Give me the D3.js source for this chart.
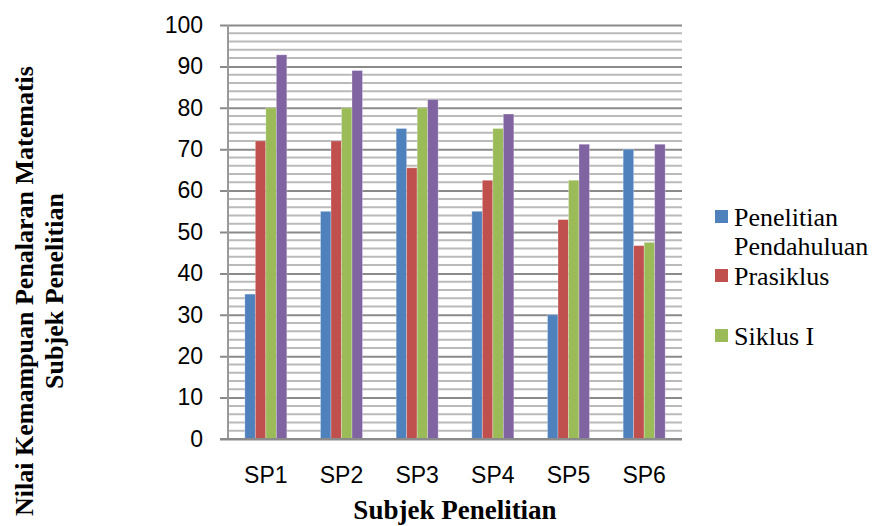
<!DOCTYPE html>
<html>
<head>
<meta charset="utf-8">
<script src="https://cdn.jsdelivr.net/npm/d3@7"></script>
<style>
  body { margin: 0; background: #fff; }
  .serif { font-family: 'Liberation Serif', 'Times New Roman', serif; }
</style>
</head>
<body>
<div class="container"></div>
<script>
const categories = ["SP1", "SP2", "SP3", "SP4", "SP5", "SP6"]
const seriesNames = ["Penelitian Pendahuluan", "Prasiklus", "Siklus I", "Siklus II"]
const penelitianPendahuluan = [35, 55, 75, 55, 30, 70]
const prasiklus = [72, 72, 65.5, 62.5, 53, 46.7]
const siklusI = [80, 80, 80, 75, 62.5, 47.5]
const siklusII = [92.8, 89, 82, 78.5, 71.2, 71.2]
const yTicks = [0, 10, 20, 30, 40, 50, 60, 70, 80, 90, 100]
const colors = ["#4f81bd", "#c0504d", "#9bbb59", "#8064a2"]

const allSeries = [penelitianPendahuluan, prasiklus, siklusI, siklusII]
const rows = categories.map((c, i) => ({
    category: c,
    values: allSeries.map((s, j) => ({ key: seriesNames[j], value: s[i], idx: j }))
}))

const width = 874
const height = 526
const margin = { left: 228, right: 192, top: 25, bottom: 87 }

const svg = d3.select(".container")
    .append("svg")
    .attr("xmlns", "http://www.w3.org/2000/svg")
    .attr("width", width)
    .attr("height", height)

const x0 = d3.scaleBand()
    .domain(categories)
    .range([margin.left, width - margin.right])
    .paddingInner(0.445)
    .paddingOuter(0.2225)

const x1 = d3.scaleBand()
    .domain(seriesNames)
    .range([0, x0.bandwidth()])

const y = d3.scaleLinear()
    .domain([0, 100])
    .range([height - margin.bottom, margin.top])

// minor gridlines every 2, major every 10
const minor = d3.range(2, 100, 2).filter(v => v % 10 != 0)
svg.append("g")
    .selectAll("line")
    .data(minor)
    .enter().append("line")
    .attr("x1", margin.left)
    .attr("x2", width - margin.right)
    .attr("y1", d => y(d))
    .attr("y2", d => y(d))
    .style("stroke", "#bababa")
    .style("stroke-width", "2px")

const yAxis = svg.append("g")
    .attr("transform", `translate(${margin.left},0)`)
    .call(d3.axisLeft(y).tickValues(yTicks).tickSize(8).tickPadding(17))

yAxis.select(".domain").remove()
yAxis.selectAll(".tick line")
    .attr("x2", width - margin.right - margin.left)
    .attr("x1", -8)
    .style("stroke", "#8a8a8a")
    .style("stroke-width", "2px")
yAxis.selectAll(".tick text")
    .style("font-family", "'Liberation Sans', Arial, sans-serif")
    .style("font-size", "23px")
    .style("fill", "#000")

svg.append("line")
    .attr("x1", margin.left)
    .attr("x2", margin.left)
    .attr("y1", y(100))
    .attr("y2", y(0))
    .style("stroke", "#9a9a9a")
    .style("stroke-width", "2px")

const group = svg.append("g")
    .selectAll("g")
    .data(rows)
    .enter().append("g")
    .attr("transform", d => `translate(${x0(d.category)},0)`)

group.selectAll("rect")
    .data(d => d.values)
    .enter().append("rect")
    .attr("x", d => x1(d.key))
    .attr("width", x1.bandwidth())
    .attr("y", d => y(d.value))
    .attr("height", d => y(0) - y(d.value))
    .style("fill", d => colors[d.idx])
    .style("stroke", "#ffffff")
    .style("stroke-opacity", 0.35)
    .style("stroke-width", "0.8px")

const xAxis = svg.append("g")
    .attr("transform", `translate(0,${y(0)})`)
    .call(d3.axisBottom(x0).tickSize(0).tickPadding(28))

xAxis.select(".domain").remove()
xAxis.selectAll(".tick text")
    .style("font-family", "'Liberation Sans', Arial, sans-serif")
    .style("font-size", "23px")
    .style("fill", "#000")

svg.append("line")
    .attr("x1", margin.left - 8)
    .attr("x2", width - margin.right)
    .attr("y1", y(0))
    .attr("y2", y(0))
    .style("stroke", "#8a8a8a")
    .style("stroke-width", "2px")

svg.append("text")
    .attr("class", "serif")
    .attr("x", (margin.left + width - margin.right) / 2)
    .attr("y", 519)
    .attr("text-anchor", "middle")
    .style("font-weight", "bold")
    .style("font-size", "27px")
    .text("Subjek Penelitian")

const yTitle = ["Nilai Kemampuan Penalaran Matematis", "Subjek Penelitian"]
svg.append("g")
    .selectAll("text")
    .data(yTitle)
    .enter().append("text")
    .attr("class", "serif")
    .attr("transform", (d, i) => `translate(${33 + i * 30},291) rotate(-90)`)
    .attr("text-anchor", "middle")
    .style("font-weight", "bold")
    .style("font-size", "26px")
    .text(d => d)

// legend, the last entry is cut off in the original
const legendItems = [
    { lines: ["Penelitian", "Pendahuluan"], idx: 0, y: 226 },
    { lines: ["Prasiklus"], idx: 1, y: 285 },
    { lines: ["Siklus I"], idx: 2, y: 345 }
]

const legend = svg.append("g")
    .selectAll("g")
    .data(legendItems)
    .enter().append("g")

legend.append("rect")
    .attr("x", 715)
    .attr("y", d => d.y - 16)
    .attr("width", 13)
    .attr("height", 13)
    .style("fill", d => colors[d.idx])

legend.append("text")
    .attr("x", 734)
    .attr("y", d => d.y)
    .selectAll("tspan")
    .data(d => d.lines)
    .enter().append("tspan")
    .attr("class", "serif")
    .attr("x", 734)
    .attr("dy", (d, i) => i == 0 ? 0 : 29)
    .style("font-size", "26px")
    .text(d => d)
</script>
</body>
</html>
